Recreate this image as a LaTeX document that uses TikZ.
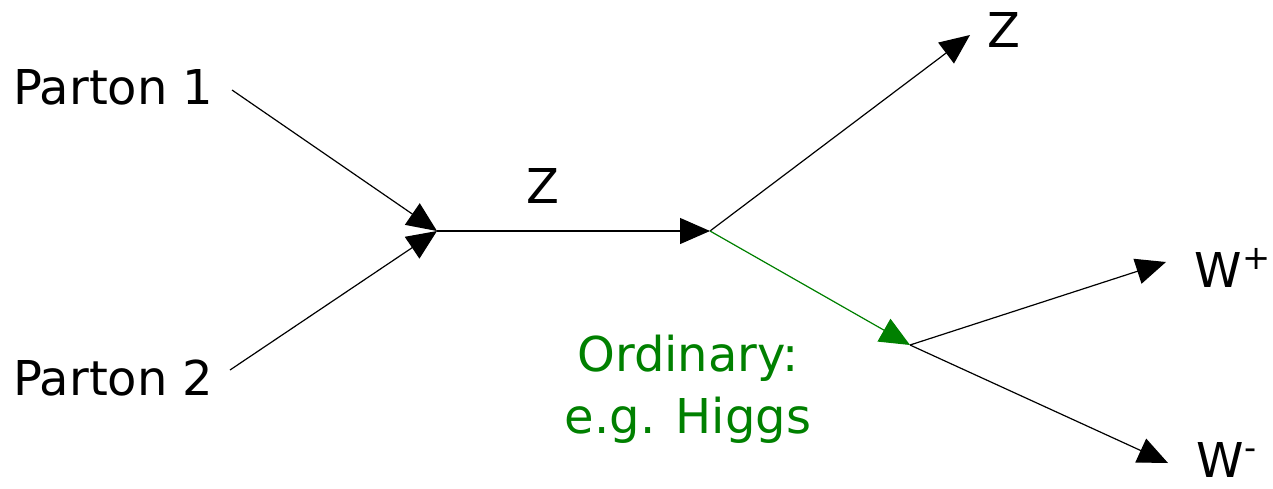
\documentclass[tikz,border=0pt]{standalone}
\usepackage{fontspec}
\setmainfont{DejaVu Sans}
\usetikzlibrary{arrows.meta}
\definecolor{ordinary}{HTML}{008000}

\begin{document}
\begin{tikzpicture}[
    x=0.5pt, y=-0.5pt,
    line width=0.6pt,
    >={Triangle[length=15pt, width=13pt]},
    lbl/.style={font=\fontsize{24}{31}\selectfont, inner sep=0pt},
    leg/.style={draw, ->},
    higgs/.style={leg, draw=ordinary, fill=ordinary}
]
\useasboundingbox (0,0) rectangle (1273,488);

% vertices
\coordinate (V1) at (437,231);
\coordinate (V2) at (710,231);
\coordinate (V3) at (910,345);

% outgoing ends
\coordinate (Zend) at (970,35);
\coordinate (Wpend) at (1166,262);
\coordinate (Wmend) at (1168,463);

% labels
\node[lbl, anchor=east] (P1) at (214,87) {Parton 1};
\node[lbl, anchor=east] (P2) at (214,378) {Parton 2};
\node[lbl] (Zmid) at (543,186) {Z};
\node[lbl] (Zout) at (1004,30) {Z};
\node[lbl, anchor=west] (Wp) at (1194,268) {W\textsuperscript{+}};
\node[lbl, anchor=west] (Wm) at (1196,460) {W\textsuperscript{-}};
\node[lbl, text=ordinary, align=center] (H) at (688,389) {Ordinary:\\e.g. Higgs};

\draw[leg] ([shift={(18,3)}]P1.east) -- (V1);
\draw[leg] ([shift={(16,-8)}]P2.east) -- (V1);
\draw[leg] (V1) -- (V2);
\draw[leg] (V2) -- (Zend);
\draw[higgs] (V2) -- (V3);
\draw[leg] (V3) -- (Wpend);
\draw[leg] (V3) -- (Wmend);

\end{tikzpicture}
\end{document}
